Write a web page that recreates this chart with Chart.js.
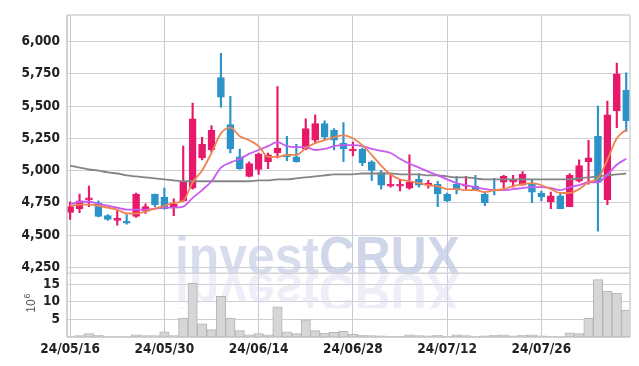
<!DOCTYPE html>
<html><head><meta charset="utf-8">
<script src="https://cdn.jsdelivr.net/npm/chart.js@4.4.1/dist/chart.umd.min.js"></script>
<style>html,body{margin:0;padding:0;background:#fff;}#wrap{width:639px;height:366px;position:relative;}</style>
</head><body><div id="wrap"><canvas id="c" width="639" height="366"></canvas></div>
<script>
const dates = ['24/05/16','24/05/17','24/05/20','24/05/21','24/05/22','24/05/23','24/05/24','24/05/27','24/05/28','24/05/29',
'24/05/30','24/05/31','24/06/03','24/06/04','24/06/05','24/06/07','24/06/10','24/06/11','24/06/12','24/06/13',
'24/06/14','24/06/17','24/06/18','24/06/19','24/06/20','24/06/21','24/06/24','24/06/25','24/06/26','24/06/27',
'24/06/28','24/07/01','24/07/02','24/07/03','24/07/04','24/07/05','24/07/08','24/07/09','24/07/10','24/07/11',
'24/07/12','24/07/15','24/07/16','24/07/17','24/07/18','24/07/19','24/07/22','24/07/23','24/07/24','24/07/25',
'24/07/26','24/07/29','24/07/30','24/07/31','24/08/01','24/08/02','24/08/05','24/08/06','24/08/07','24/08/08'];
const openP = [4676,4705,4773,4750,4651,4614,4606,4644,4689,4818,
4795,4712,4765,4864,5098,5159,5720,5356,5106,4955,
5008,5068,5136,5121,5106,5167,5235,5364,5311,5212,
5152,5167,5068,4985,4879,4879,4864,4932,4886,4894,
4818,4894,4879,4879,4818,4848,4909,4909,4886,4902,
4826,4758,4803,4720,4917,5068,5265,4773,5462,5621];
const highP = [4758,4818,4879,4765,4659,4689,4659,4826,4742,4818,
4864,4780,5189,5523,5258,5348,5909,5576,5167,5068,
5136,5136,5651,5265,5204,5401,5432,5386,5326,5371,
5220,5174,5076,5000,4970,4924,5121,4977,4924,4917,
4826,4955,4955,4962,4833,4939,4962,4962,4992,4932,
4841,4833,4818,4977,5083,5235,5500,5538,5833,5758];
const lowP = [4621,4674,4720,4640,4614,4576,4585,4636,4667,4720,
4700,4651,4760,4855,5083,5144,5492,5136,5008,4950,
4970,5015,5098,5076,5065,5159,5212,5235,5159,5068,
5114,5038,4924,4856,4871,4841,4856,4871,4864,4720,
4758,4818,4856,4848,4727,4811,4864,4871,4886,4750,
4765,4705,4705,4720,4909,4894,4530,4735,5333,5303];
const closeP = [4720,4765,4788,4644,4621,4629,4591,4818,4720,4735,
4705,4742,4917,5401,5204,5311,5568,5167,5015,5053,
5129,5121,5174,5106,5068,5326,5364,5258,5235,5167,
5167,5061,5000,4886,4894,4894,4909,4886,4902,4818,
4765,4856,4886,4848,4750,4841,4955,4924,4970,4833,
4795,4803,4705,4962,5038,5098,4909,5432,5750,5386];
const volume = [0.1,0.4,1.0,0.5,0.1,0.1,0.1,0.65,0.4,0.4,
1.5,0.4,5.4,15.3,3.75,2.1,11.6,5.4,1.8,0.65,
0.95,0.65,8.6,1.5,0.95,4.9,1.8,1.1,1.3,1.6,
0.75,0.55,0.4,0.3,0.1,0.2,0.65,0.4,0.3,0.5,
0.2,0.65,0.4,0.2,0.3,0.5,0.65,0.3,0.5,0.65,
0.3,0.2,0.1,1.2,0.95,5.3,16.4,13.1,12.5,7.7];
const maShort = [4727,4735,4735,4727,4712,4697,4667,4667,4682,4705,
4727,4750,4765,4909,5000,5136,5288,5333,5265,5235,
5189,5106,5106,5121,5121,5174,5212,5235,5258,5273,
5250,5197,5121,5038,4970,4932,4917,4902,4886,4879,
4856,4856,4848,4848,4833,4848,4856,4879,4894,4902,
4886,4856,4826,4826,4856,4909,4939,5083,5250,5318];
const maMid = [4735,4758,4758,4742,4727,4712,4697,4697,4697,4705,
4712,4712,4720,4788,4848,4917,5023,5061,5091,5129,
5159,5189,5220,5189,5182,5182,5159,5167,5189,5197,
5197,5189,5167,5152,5136,5091,5053,5023,4992,4962,
4932,4902,4886,4871,4856,4848,4848,4856,4864,4871,
4871,4864,4848,4871,4886,4909,4909,4970,5045,5091];
const maLong = [5038,5023,5008,5000,4985,4977,4962,4955,4947,4939,
4932,4924,4917,4917,4917,4917,4917,4917,4917,4917,
4924,4924,4932,4932,4939,4947,4955,4962,4970,4970,
4970,4977,4977,4977,4977,4970,4970,4970,4962,4962,
4955,4947,4947,4939,4932,4932,4932,4932,4932,4932,
4932,4932,4932,4932,4939,4947,4955,4962,4970,4977];
const priceTicks = [4250,4500,4750,5000,5250,5500,5750,6000];
const volumeTicks = [5,10,15];
const dateTickIdx = [0,10,20,30,40,50];

const UP = '#e8196a', DOWN = '#2b93c8';
const colors = closeP.map((c,i)=> c >= openP[i] ? UP : DOWN);

const mctx = document.createElement('canvas').getContext('2d');
function avail(f){
  const s='24/05/16 6,000 mmwwll';
  mctx.font='40px monospace'; const a=mctx.measureText(s).width;
  mctx.font="40px '"+f+"', monospace"; const b=mctx.measureText(s).width;
  mctx.font='40px serif'; const c=mctx.measureText(s).width;
  mctx.font="40px '"+f+"', serif"; const d=mctx.measureText(s).width;
  return a!==b || c!==d;
}
const cands = ['Liberation Sans Narrow','DejaVu Sans Condensed','Roboto Condensed','Liberation Sans'];
let FAM = 'Liberation Sans';
for (const f of cands){ if (avail(f)) { FAM = f; break; } }
const FONT = "'"+FAM+"', sans-serif";
const FSIZE = FAM === 'Liberation Sans Narrow' ? 15 : 13.5;

const watermark = {
  id:'watermark',
  beforeDatasetsDraw(chart){
    const ctx = chart.ctx;
    const yv = chart.scales.yv;
    const base = yv.top + 1;
    ctx.save();
    ctx.font = "bold 54px 'Liberation Sans', sans-serif";
    const txt1 = 'invest', txt2 = 'CRUX';
    const w1 = ctx.measureText(txt1).width, w2 = ctx.measureText(txt2).width;
    const sx = 285/(w1+w2);
    const x0 = 175;
    ctx.save();
    ctx.translate(x0, base);
    ctx.scale(sx,1);
    ctx.textBaseline='alphabetic';
    ctx.fillStyle='rgba(200,208,228,0.72)';
    ctx.fillText(txt1,0,0);
    ctx.fillStyle='rgba(188,198,224,0.72)';
    ctx.fillText(txt2,w1,0);
    ctx.restore();
    ctx.save();
    ctx.beginPath();
    ctx.rect(0, base, chart.width, 34);
    ctx.clip();
    ctx.translate(x0, base);
    ctx.scale(sx,-1);
    ctx.fillStyle='rgba(220,222,240,0.5)';
    ctx.fillText(txt1,0,0);
    ctx.fillText(txt2,w1,0);
    ctx.restore();
    ctx.restore();
  }
};
const frame = {
  id:'frame',
  afterDraw(chart){
    const ctx = chart.ctx, a = chart.chartArea, yv = chart.scales.yv;
    ctx.save();
    ctx.strokeStyle = '#d4d4d4';
    ctx.lineWidth = 1.5;
    ctx.beginPath();
    ctx.moveTo(a.left, a.top); ctx.lineTo(a.right, a.top);
    ctx.moveTo(a.right, a.top); ctx.lineTo(a.right, a.bottom);
    ctx.moveTo(a.left, yv.top); ctx.lineTo(a.right, yv.top);
    ctx.stroke();
    ctx.strokeStyle = '#c4c4c4';
    ctx.beginPath();
    ctx.moveTo(a.left, a.bottom); ctx.lineTo(a.right, a.bottom);
    ctx.moveTo(a.left, a.top); ctx.lineTo(a.left, a.bottom);
    ctx.stroke();
    ctx.translate(32, (yv.top + yv.bottom)/2 - 2);
    ctx.rotate(-Math.PI/2);
    ctx.fillStyle = '#555';
    ctx.textAlign = 'center';
    ctx.textBaseline = 'middle';
    ctx.font = "12px 'Liberation Sans', sans-serif";
    ctx.fillText('10', -3, 0);
    ctx.font = "9px 'Liberation Sans', sans-serif";
    ctx.fillText('6', 7, -4);
    ctx.restore();
  }
};

const idx = dates.map((d,i)=>i);
const ds = [
  {type:'line', label:'MA short', data: idx.map(i=>({x:i,y:maShort[i]})), yAxisID:'y', borderColor:'#ef8450', borderWidth:1.8, pointRadius:0, cubicInterpolationMode:'monotone', order:0},
  {type:'line', label:'MA mid', data: idx.map(i=>({x:i,y:maMid[i]})), yAxisID:'y', borderColor:'#c85af0', borderWidth:1.8, pointRadius:0, cubicInterpolationMode:'monotone', order:0},
  {type:'line', label:'MA long', data: idx.map(i=>({x:i,y:maLong[i]})), yAxisID:'y', borderColor:'#858585', borderWidth:1.8, pointRadius:0, cubicInterpolationMode:'monotone', order:0},
  {type:'bar', label:'body', data: idx.map(i=>({x:i,y:[openP[i], closeP[i]]})), yAxisID:'y', backgroundColor:colors, borderColor:colors, borderWidth:1, borderSkipped:false, barThickness:7, grouped:false, order:1},
  {type:'bar', label:'wick', data: idx.map(i=>({x:i,y:[lowP[i], highP[i]]})), yAxisID:'y', backgroundColor:colors, borderWidth:0, barThickness:1.5, grouped:false, order:2},
  {type:'bar', label:'volume', data: idx.map(i=>({x:i,y:volume[i]})), yAxisID:'yv', backgroundColor:'#d6d6d9', borderColor:'#b4b4b4', borderWidth:1, borderSkipped:false, barPercentage:1, categoryPercentage:1, grouped:false, order:3}
];

const tickFont = {family:FONT, size:FSIZE, weight:'bold'};
new Chart(document.getElementById('c'), {
  data:{datasets: ds},
  plugins:[watermark, frame],
  options:{
    responsive:false, animation:false, devicePixelRatio:1,
    layout:{padding:{top:9, right:9, left:0, bottom:6}},
    plugins:{legend:{display:false}, tooltip:{enabled:false}},
    scales:{
      x:{type:'linear', min:-0.33, max:59.4, position:'bottom', offset:false,
        afterFit(s){ s.height = 23; },
        afterBuildTicks(s){ s.ticks = dateTickIdx.map(v=>({value:v})); },
        border:{display:false},
        grid:{color:'#c6cadf', borderDash:[2,3], drawTicks:false, lineWidth:1, offset:false},
        ticks:{autoSkip:false, maxRotation:0, padding:4, color:'#222', font:tickFont,
          callback:(v)=> dates[v] || ''}
      },
      yv:{type:'linear', position:'left', stack:'panel', stackWeight:65, min:0, max:18.2, offset:false,
        afterFit(s){ s.width = 67; },
        afterBuildTicks(s){ s.ticks = volumeTicks.map(v=>({value:v})); },
        border:{display:false},
        grid:{color:'#cfcfcf', borderDash:[2,3], drawTicks:false},
        ticks:{autoSkip:false, padding:7, color:'#222', font:tickFont, callback:(v)=> String(v)}
      },
      y:{type:'linear', position:'left', stack:'panel', stackWeight:263, min:4204, max:6205,
        afterFit(s){ s.width = 67; },
        afterBuildTicks(s){ s.ticks = priceTicks.map(v=>({value:v})); },
        border:{display:false},
        grid:{color:'#cfcfcf', borderDash:[2,3], drawTicks:false},
        ticks:{autoSkip:false, padding:7, color:'#222', font:tickFont,
          callback:(v)=> v.toLocaleString('en-US')}
      }
    }
  }
});
</script></body></html>
